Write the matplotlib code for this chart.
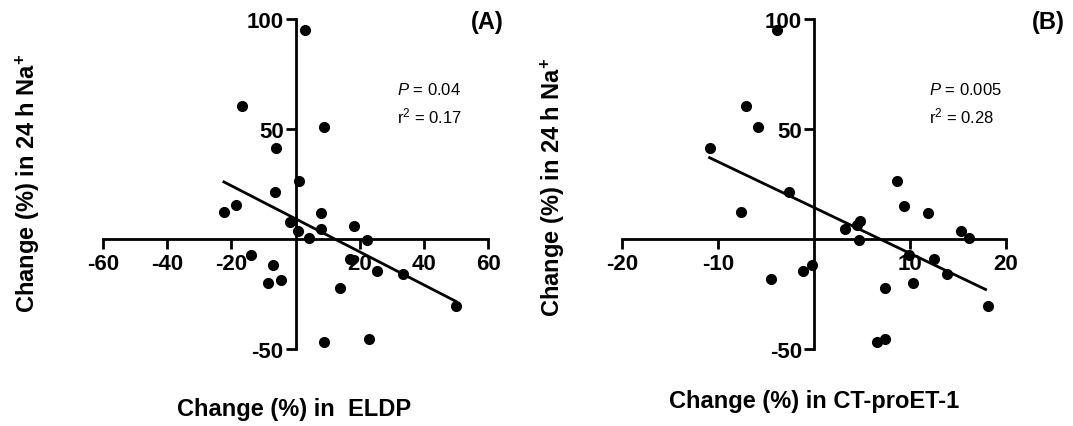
import numpy as np
from matplotlib import pyplot as plt

plt.rcParams['font.family'] = ['Liberation Sans', 'DejaVu Sans']
plt.rcParams['mathtext.fontset'] = 'custom'
plt.rcParams['mathtext.rm'] = 'Liberation Sans'
plt.rcParams['mathtext.it'] = 'Liberation Sans:italic'
plt.rcParams['mathtext.bf'] = 'Liberation Sans:bold'
#the original uses plain hyphens for negative numbers
plt.rcParams['axes.unicode_minus'] = False

#panel A: change in ELDP vs change in 24 h Na+
eldp_x = [3.1, -16.6, 8.8, -6.0, 1.0, -6.5, -18.4, -22.3, 8.1, -1.8, 0.8, 8.1, 18.3,
          4.1, 22.4, -13.8, -7.1, -8.5, -4.4, 17.1, 25.5, 33.5, 13.8, 50.1, 8.8, 22.8]
eldp_y = [95.1, 60.6, 51.0, 41.4, 26.5, 21.2, 15.5, 12.4, 12.0, 7.6, 3.8, 4.5, 6.1,
          0.6, -0.5, -7.3, -12.0, -20.2, -18.5, -9.1, -14.5, -15.9, -22.4, -30.5, -47.0, -45.3]
#fitted line (slope, intercept, x range)
eldp_fit = (-0.751, 9.2, -22.3, 50.1)

#panel B: change in CT-proET-1 vs change in 24 h Na+
ct_x = [-3.9, -7.05, -5.8, -10.9, 8.7, -2.6, 9.4, -7.65, 11.9, 4.8, 4.5, 3.2, 15.3,
        16.2, 4.7, 9.9, 12.5, -0.2, -1.1, 13.9, -4.5, 10.3, 7.4, 18.2, 6.6, 7.4]
ct_y = [95.1, 60.6, 51.0, 41.4, 26.5, 21.2, 15.2, 12.4, 12.0, 8.2, 6.4, 4.5, 3.8,
        0.6, -0.3, -7.3, -9.1, -12.0, -14.7, -16.0, -18.4, -20.1, -22.4, -30.5, -47.0, -45.3]
ct_fit = (-2.08, 14.3, -10.9, 17.9)

fig = plt.figure(figsize=(10.73, 4.27), dpi=100)
axA = fig.add_axes([0.096, 0.1803, 0.3588, 0.7728])
axB = fig.add_axes([0.58, 0.1803, 0.3573, 0.7728])

def draw_panel(ax, xs, ys, fit, xlim, xticks, p_text, r_text, p_x, letter, letter_x):
    ax.plot(xs, ys, 'o', color='black', markersize=7, clip_on=False, zorder=3)
    slope, intercept, x0, x1 = fit
    lx = np.array([x0, x1])
    ax.plot(lx, slope * lx + intercept, color='black', linewidth=2.0, clip_on=False)

    ax.set_xlim(xlim)
    ax.set_ylim(-50, 100)
    #axes cross at zero
    ax.spines['left'].set_position(('data', 0))
    ax.spines['bottom'].set_position(('data', 0))
    ax.spines['top'].set_visible(False)
    ax.spines['right'].set_visible(False)
    for s in ['left', 'bottom']:
        ax.spines[s].set_linewidth(2.0)
    ax.set_xticks(xticks)
    ax.set_yticks([-50, 50, 100])
    ax.tick_params(axis='both', direction='out', length=7, width=2.0, labelsize=16)
    ax.tick_params(axis='x', pad=3)
    ax.tick_params(axis='y', pad=1.5)
    for lab in ax.get_xticklabels() + ax.get_yticklabels():
        lab.set_fontweight('bold')

    ax.text(p_x, 68, p_text, fontsize=12, ha='left', va='center')
    ax.text(p_x, 56, r_text, fontsize=12, ha='left', va='center')
    ax.text(letter_x, 99, letter, fontsize=17, fontweight='bold', ha='right',
            va='center', clip_on=False)

draw_panel(axA, eldp_x, eldp_y, eldp_fit, (-60, 60), [-60, -40, -20, 20, 40, 60],
           '$P$ = 0.04', 'r$^2$ = 0.17', 31.5, '(A)', 64.8)
draw_panel(axB, ct_x, ct_y, ct_fit, (-20, 20), [-20, -10, 10, 20],
           '$P$ = 0.005', 'r$^2$ = 0.28', 12.0, '(B)', 26.2)

ylab = r'Change (%) in 24 h Na$^{\mathbf{+}}$'
fig.text(0.026, 0.571, ylab, rotation=90, fontsize=17, fontweight='bold', ha='center', va='center')
fig.text(0.515, 0.562, ylab, rotation=90, fontsize=17, fontweight='bold', ha='center', va='center')
fig.text(0.274, 0.04, 'Change (%) in  ELDP', fontsize=17, fontweight='bold', ha='center', va='center')
fig.text(0.7586, 0.059, 'Change (%) in CT-proET-1', fontsize=17, fontweight='bold', ha='center', va='center')

fig.savefig('out.png', dpi=100)
